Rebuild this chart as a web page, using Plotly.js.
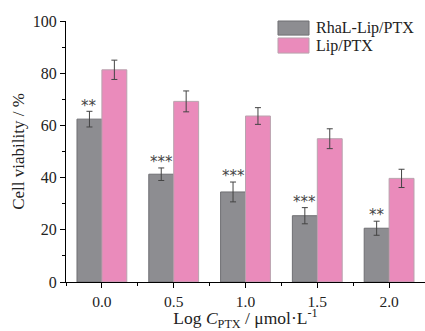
<!DOCTYPE html>
<html>
<head>
<meta charset="utf-8">
<script src="https://cdn.plot.ly/plotly-3.0.1.min.js"></script>
<style>html,body{margin:0;padding:0;background:#fff;}#chart{width:425px;height:331px;}</style>
</head>
<body>
<div id="chart"></div>
<script>
const logC = [0, 0.5, 1.0, 1.5, 2.0];
const tickLabels = ["0.0", "0.5", "1.0", "1.5", "2.0"];
const seriesNames = ["RhaL-Lip/PTX", "Lip/PTX"];
const rhalValues = [62.4, 41.3, 34.5, 25.4, 20.6];
const rhalErrors = [3.0, 2.4, 3.8, 3.1, 2.7];
const lipValues = [81.3, 69.2, 63.6, 54.9, 39.7];
const lipErrors = [3.7, 4.0, 3.2, 3.8, 3.5];
const significance = ["**", "***", "***", "***", "**"];

const grayColor = "#8d8d91";
const pinkColor = "#ea8bbb";
const bargap = 0.306;
const dx = 0.5;
const groupW = dx * (1 - bargap);

const traces = [
  {
    type: "bar", name: seriesNames[0], x: logC, y: rhalValues,
    marker: {color: grayColor, line: {color: "#6f6f73", width: 1}},
    error_y: {type: "data", array: rhalErrors, visible: true, color: "#444", thickness: 1, width: 3},
    showlegend: false
  },
  {
    type: "bar", name: seriesNames[1], x: logC, y: lipValues,
    marker: {color: pinkColor, line: {color: "#b9a3ae", width: 1}},
    error_y: {type: "data", array: lipErrors, visible: true, color: "#444", thickness: 1, width: 3},
    showlegend: false
  }
];

const annotations = logC.map((x, i) => ({
  x: x - groupW / 4, y: rhalValues[i] + rhalErrors[i] + 2.2,
  xref: "x", yref: "y", text: significance[i], showarrow: false,
  yanchor: "middle", xanchor: "center",
  font: {family: "DejaVu Sans", size: 15, color: "#444"}
}));

// Legend (manual, to reproduce the larger swatches)
const legendColors = [grayColor, pinkColor];
const legendBorders = ["#6f6f73", "#b9a3ae"];
const shapes = [];
const legTop = [1.0, 0.935];
const legBot = [0.946, 0.877];
for (let k = 0; k < 2; k++) {
  shapes.push({
    type: "rect", xref: "paper", yref: "paper",
    x0: 0.5905, x1: 0.6769, y0: legBot[k], y1: legTop[k],
    fillcolor: legendColors[k], line: {color: legendBorders[k], width: 1}
  });
  annotations.push({
    x: 0.69, y: (legBot[k] + legTop[k]) / 2, xref: "paper", yref: "paper",
    text: seriesNames[k], showarrow: false, xanchor: "left", yanchor: "middle",
    font: {family: "Liberation Serif", size: 16, color: "#222"}
  });
}

const layout = {
  width: 425, height: 331,
  margin: {l: 66, r: 0, t: 21, b: 49, pad: 0},
  paper_bgcolor: "#fff", plot_bgcolor: "#fff",
  barmode: "group", bargap: bargap, bargroupgap: 0,
  font: {family: "Liberation Serif", size: 15, color: "#222"},
  xaxis: {
    range: [-0.25, 2.25], tickvals: logC, ticktext: tickLabels,
    showline: true, linecolor: "#000", linewidth: 1,
    ticks: "outside", ticklen: 5, tickcolor: "#000", showgrid: false, zeroline: false,
    minor: {dtick: 0.25, tick0: 0.25, ticks: "outside", ticklen: 3, tickcolor: "#000", showgrid: false},
    tickfont: {family: "Liberation Serif", size: 15.5, color: "#222"},
    title: {text: "Log <i>C</i><sub>PTX</sub> / μmol·L<sup>-1</sup>", standoff: 8,
      font: {family: "Liberation Serif", size: 17.5, color: "#222"}}
  },
  yaxis: {
    range: [0, 100], dtick: 20, tick0: 0,
    showline: true, linecolor: "#000", linewidth: 1,
    ticks: "outside", ticklen: 5, tickcolor: "#000", showgrid: false, zeroline: false,
    minor: {dtick: 10, ticks: "outside", ticklen: 3, tickcolor: "#000", showgrid: false},
    tickfont: {family: "Liberation Serif", size: 16, color: "#222"},
    title: {text: "Cell viability / %", standoff: 3,
      font: {family: "Liberation Serif", size: 17, color: "#222"}}
  },
  annotations: annotations,
  shapes: shapes
};

Plotly.newPlot("chart", traces, layout, {staticPlot: true, displayModeBar: false});
</script>
</body>
</html>
